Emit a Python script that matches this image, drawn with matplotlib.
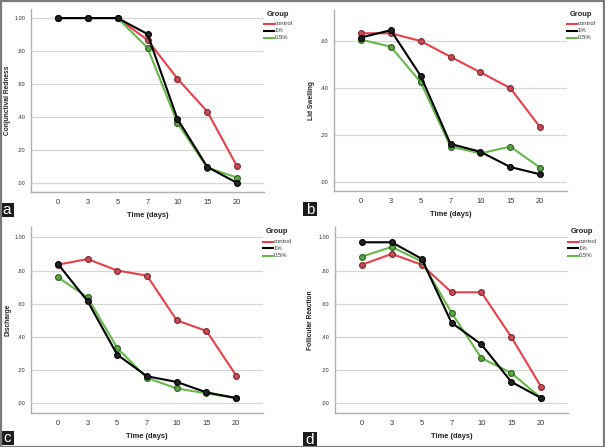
import matplotlib
matplotlib.use("Agg")
import matplotlib.pyplot as plt
from matplotlib.lines import Line2D
from matplotlib.patches import Rectangle

plt.rcParams["font.family"] = ["Liberation Sans", "DejaVu Sans"]

days = ["0", "3", "5", "7", "10", "15", "20"]
groups = ["control", "1%", "0.5%"]

redness_control = [1.0, 1.0, 1.0, 0.867, 0.633, 0.433, 0.100]
redness_1 = [1.0, 1.0, 1.0, 0.903, 0.389, 0.097, 0.000]
redness_05 = [1.0, 1.0, 1.0, 0.820, 0.365, 0.093, 0.032]

swelling_control = [0.633, 0.633, 0.600, 0.533, 0.467, 0.400, 0.233]
swelling_1 = [0.615, 0.646, 0.452, 0.162, 0.129, 0.064, 0.033]
swelling_05 = [0.606, 0.576, 0.425, 0.151, 0.122, 0.151, 0.061]

discharge_control = [0.835, 0.869, 0.800, 0.769, 0.500, 0.436, 0.167]
discharge_1 = [0.841, 0.616, 0.293, 0.163, 0.129, 0.066, 0.032]
discharge_05 = [0.759, 0.639, 0.333, 0.153, 0.090, 0.060, 0.032]

follicular_control = [0.835, 0.900, 0.835, 0.669, 0.669, 0.400, 0.100]
follicular_1 = [0.970, 0.970, 0.871, 0.486, 0.355, 0.130, 0.032]
follicular_05 = [0.884, 0.942, 0.855, 0.546, 0.273, 0.183, 0.032]

ylabels = ["Conjunctival Redness", "Lid Swelling", "Discharge", "Follicular Reaction"]
panel_letters = ["a", "b", "c", "d"]
yticks_full = [0.0, 0.2, 0.4, 0.6, 0.8, 1.0]
ytick_labels_full = [".00", ".20", ".40", ".60", ".80", "1.00"]
yticks_b = [0.0, 0.2, 0.4, 0.6]
ytick_labels_b = [".00", ".20", ".40", ".60"]

panels = [
    (redness_control, redness_1, redness_05),
    (swelling_control, swelling_1, swelling_05),
    (discharge_control, discharge_1, discharge_05),
    (follicular_control, follicular_1, follicular_05),
]

W, H = 605, 447
fig = plt.figure(figsize=(W / 100, H / 100), dpi=100)
fig.patch.set_facecolor("white")

# axes boxes in pixels: left, top, right, bottom
boxes = [(31, 9, 264, 192), (334, 10, 567, 191), (31, 227, 263, 413), (335, 227, 568, 413)]
ylims = [(-0.055, 1.055), (-0.038, 0.732), (-0.058, 1.062), (-0.058, 1.062)]
ylabel_x = [11, 315, 11, 314]
legend_top = [14, 14, 232, 232]

line_colors = ["#e8404a", "#000000", "#66b848"]
face_colors = ["#cc4a55", "#222222", "#5aa842"]
edge_colors = ["#7a2a30", "#000000", "#2e5a22"]

label_pos = [(0, 203), (303, 202), (0, 431), (303, 432)]


def fx(px):
    return px / W


def fy(py):
    return 1 - py / H


for i, (l, t, r, b) in enumerate(boxes):
    ax = fig.add_axes([l / W, 1 - b / H, (r - l) / W, (b - t) / H])
    x = list(range(len(days)))
    for j, series in enumerate(panels[i]):
        ax.plot(x, series, color=line_colors[j], lw=1.5, marker="o", ms=4.2,
                mfc=face_colors[j], mec=edge_colors[j], mew=0.8, zorder=3 + (j == 1))
    ax.set_xlim(-0.9, 6.9)
    ax.set_ylim(*ylims[i])
    ax.set_xticks(x)
    ax.set_xticklabels(days, fontsize=5.4, color="#333333")
    if i == 1:
        ax.set_yticks(yticks_b)
        ax.set_yticklabels(ytick_labels_b, fontsize=4, color="#333333")
    else:
        ax.set_yticks(yticks_full)
        ax.set_yticklabels(ytick_labels_full, fontsize=4, color="#333333")
    ax.tick_params(axis="x", length=0, pad=5)
    ax.tick_params(axis="y", length=0, pad=4)
    ax.grid(axis="y", color="#d6d6d6", lw=0.9)
    ax.set_axisbelow(True)
    for s in ["top", "right"]:
        ax.spines[s].set_visible(False)
    for s in ["left", "bottom"]:
        ax.spines[s].set_color("#b0b0b0")
        ax.spines[s].set_linewidth(1.0)
    ax.set_xlabel("Time (days)", fontsize=5.4, fontweight="bold", color="#222222", labelpad=4)
    ax.set_ylabel(ylabels[i], fontsize=4.8, fontweight="bold", color="#222222")
    ax.yaxis.set_label_coords((ylabel_x[i] - l) / (r - l), 0.5)

    # manual legend to the right of the axes
    lt = legend_top[i]
    fig.text(fx(r + 14), fy(lt), "Group", fontsize=5.4, fontweight="bold",
             color="#222222", ha="center", va="center")
    for j, g in enumerate(groups):
        yy = lt + 9.5 + 7 * j
        fig.add_artist(Line2D([fx(r), fx(r + 10)], [fy(yy), fy(yy)],
                              color=line_colors[j], lw=1.5))
        fig.text(fx(r + 11), fy(yy), g, fontsize=4.3, color="#333333",
                 ha="left", va="center")

    lx, ly = label_pos[i]
    fig.patches.append(Rectangle((fx(lx), fy(ly + 14)), 14 / W, 14 / H,
                                 transform=fig.transFigure, facecolor="#1c1c1c",
                                 edgecolor="none", zorder=5))
    fig.text(fx(lx + 7), fy(ly + 7.5), panel_letters[i], color="white",
             fontsize=11, ha="center", va="center", zorder=6)

# outer border
fig.patches.append(Rectangle((0.5 / W, 0.5 / H), 1 - 1.5 / W, 1 - 1.5 / H,
                             transform=fig.transFigure, facecolor="none",
                             edgecolor="#7a7a7a", lw=1.6, zorder=10))

fig.savefig("out.png", dpi=100)
